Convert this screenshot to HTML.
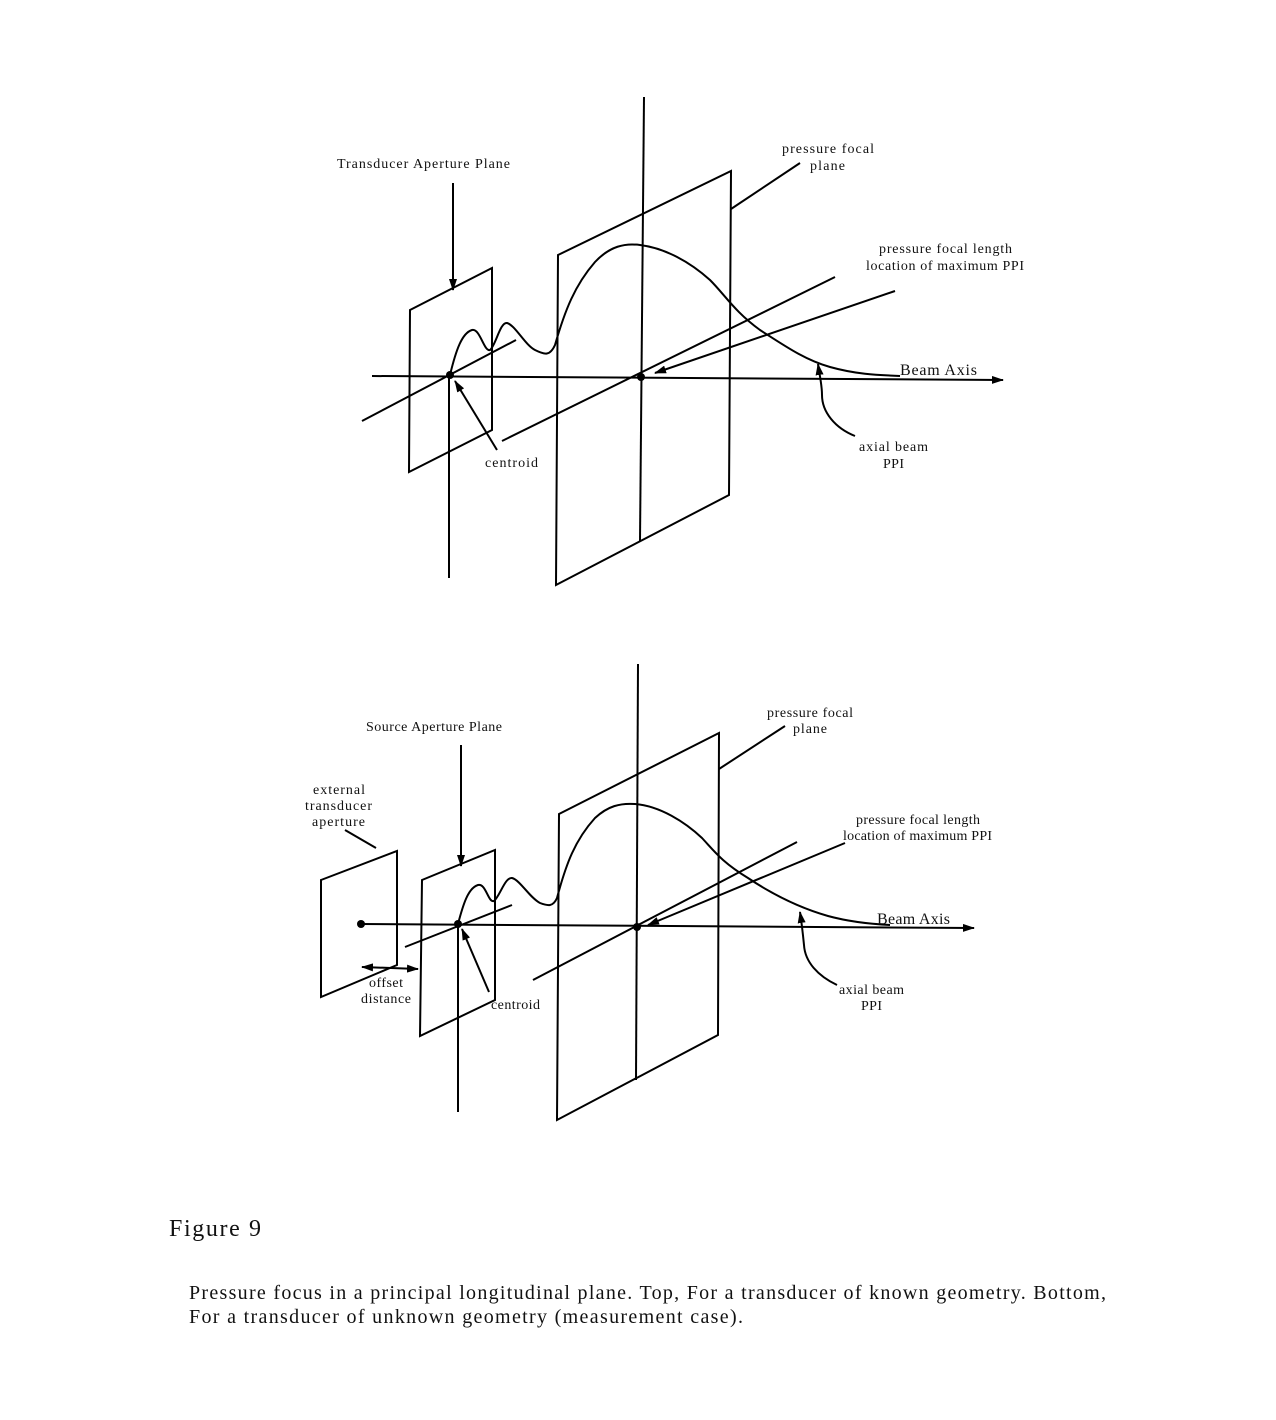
<!DOCTYPE html>
<html><head><style>
body{margin:0;background:#fff}
svg{display:block}
text{font-family:"Liberation Serif",serif;fill:#111}
</style></head><body>
<svg width="1276" height="1420" viewBox="0 0 1276 1420" xmlns="http://www.w3.org/2000/svg">
<defs>
<marker id="a" markerWidth="12" markerHeight="8" refX="11" refY="4" orient="auto" markerUnits="userSpaceOnUse"><path d="M0,0 L12,4 L0,8 z" fill="#000"/></marker>
<marker id="as" markerWidth="12" markerHeight="8" refX="1" refY="4" orient="auto" markerUnits="userSpaceOnUse"><path d="M12,0 L0,4 L12,8 z" fill="#000"/></marker>
</defs>
<g stroke="#000" stroke-width="2" fill="none">
<line x1="644" y1="97" x2="640" y2="541"/>
<polygon points="558,255 731,171 729,495 556,585"/>
<polygon points="410,310 492,268 492,430 409,472"/>
<line x1="449" y1="375" x2="449" y2="578"/>
<line x1="453" y1="183" x2="453" y2="290" marker-end="url(#a)"/>
<line x1="372" y1="376" x2="1003" y2="380" marker-end="url(#a)"/>
<line x1="362" y1="421" x2="516" y2="340"/>
<line x1="502" y1="441" x2="835" y2="277"/>
<line x1="895" y1="291" x2="655" y2="373" marker-end="url(#a)"/>
<path d="M450,375 C456,350 462,333 472,330 C480,328 484,352 490,350 C496,345 500,322 507,323 C515,325 525,345 535,350 C545,355 550,356 555,345 C565,310 575,285 595,262 C610,246 625,243 640,245 C665,248 690,262 710,280 C725,295 735,312 760,330 C785,346 805,360 830,367 C855,374 875,375 900,376"/>
<line x1="497" y1="450" x2="455" y2="381" marker-end="url(#a)"/>
<path d="M855,436 C835,428 822,412 822,395 C822,385 820,378 818,364" marker-end="url(#a)"/>
<line x1="731" y1="209" x2="800" y2="163"/>
<line x1="638" y1="664" x2="636" y2="1080"/>
<polygon points="559,814 719,733 718,1035 557,1120"/>
<polygon points="422,880 495,850 495,1000 420,1036"/>
<polygon points="321,880 397,851 397,965 321,997"/>
<line x1="458" y1="924" x2="458" y2="1112"/>
<line x1="461" y1="745" x2="461" y2="866" marker-end="url(#a)"/>
<line x1="360" y1="924" x2="974" y2="928" marker-end="url(#a)"/>
<line x1="405" y1="947" x2="512" y2="905"/>
<line x1="533" y1="980" x2="797" y2="842"/>
<line x1="845" y1="843" x2="648" y2="925" marker-end="url(#a)"/>
<path d="M458,924 C463,905 468,888 478,885 C486,883 488,903 494,901 C500,896 505,877 512,878 C520,880 530,898 540,903 C548,906 553,907 557,898 C566,864 575,840 595,818 C608,806 620,803 635,804 C660,806 685,822 702,838 C715,852 722,862 748,878 C775,896 800,908 828,916 C850,922 870,924 890,925"/>
<line x1="489" y1="992" x2="462" y2="929" marker-end="url(#a)"/>
<path d="M837,985 C818,976 805,962 804,945 C803,935 802,925 800,912" marker-end="url(#a)"/>
<line x1="719" y1="769" x2="785" y2="726"/>
<line x1="362" y1="967" x2="418" y2="969" marker-end="url(#a)" marker-start="url(#as)"/>
<line x1="376" y1="848" x2="345" y2="830"/>
</g>
<circle cx="450" cy="375" r="4"/><circle cx="641" cy="377" r="4"/>
<circle cx="361" cy="924" r="4"/><circle cx="458" cy="924" r="4"/><circle cx="637" cy="927" r="4"/>
<g font-size="14">
<text x="337" y="168" textLength="173">Transducer Aperture Plane</text>
<text x="782" y="153" textLength="92">pressure focal</text>
<text x="810" y="170" textLength="35">plane</text>
<text x="879" y="253" textLength="133">pressure focal length</text>
<text x="866" y="270" textLength="158">location of maximum PPI</text>
<text x="900" y="375" font-size="16" textLength="77">Beam Axis</text>
<text x="859" y="451" textLength="69">axial beam</text>
<text x="883" y="468" textLength="21">PPI</text>
<text x="485" y="467" textLength="53">centroid</text>
<text x="366" y="731" textLength="136">Source Aperture Plane</text>
<text x="767" y="717" textLength="86">pressure focal</text>
<text x="793" y="733" textLength="34">plane</text>
<text x="856" y="824" textLength="124">pressure focal length</text>
<text x="843" y="840" textLength="149">location of maximum PPI</text>
<text x="877" y="924" font-size="16" textLength="73">Beam Axis</text>
<text x="839" y="994" textLength="65">axial beam</text>
<text x="861" y="1010" textLength="21">PPI</text>
<text x="491" y="1009" textLength="49">centroid</text>
<text x="313" y="794" textLength="52">external</text>
<text x="305" y="810" textLength="67">transducer</text>
<text x="312" y="826" textLength="53">aperture</text>
<text x="369" y="987" textLength="34">offset</text>
<text x="361" y="1003" textLength="50">distance</text>
</g>
<text x="169" y="1236" font-size="24" textLength="92">Figure 9</text>
<text x="189" y="1299" font-size="20" textLength="917">Pressure focus in a principal longitudinal plane. Top, For a transducer of known geometry. Bottom,</text>
<text x="189" y="1323" font-size="20" textLength="554">For a transducer of unknown geometry (measurement case).</text>
</svg>
</body></html>
